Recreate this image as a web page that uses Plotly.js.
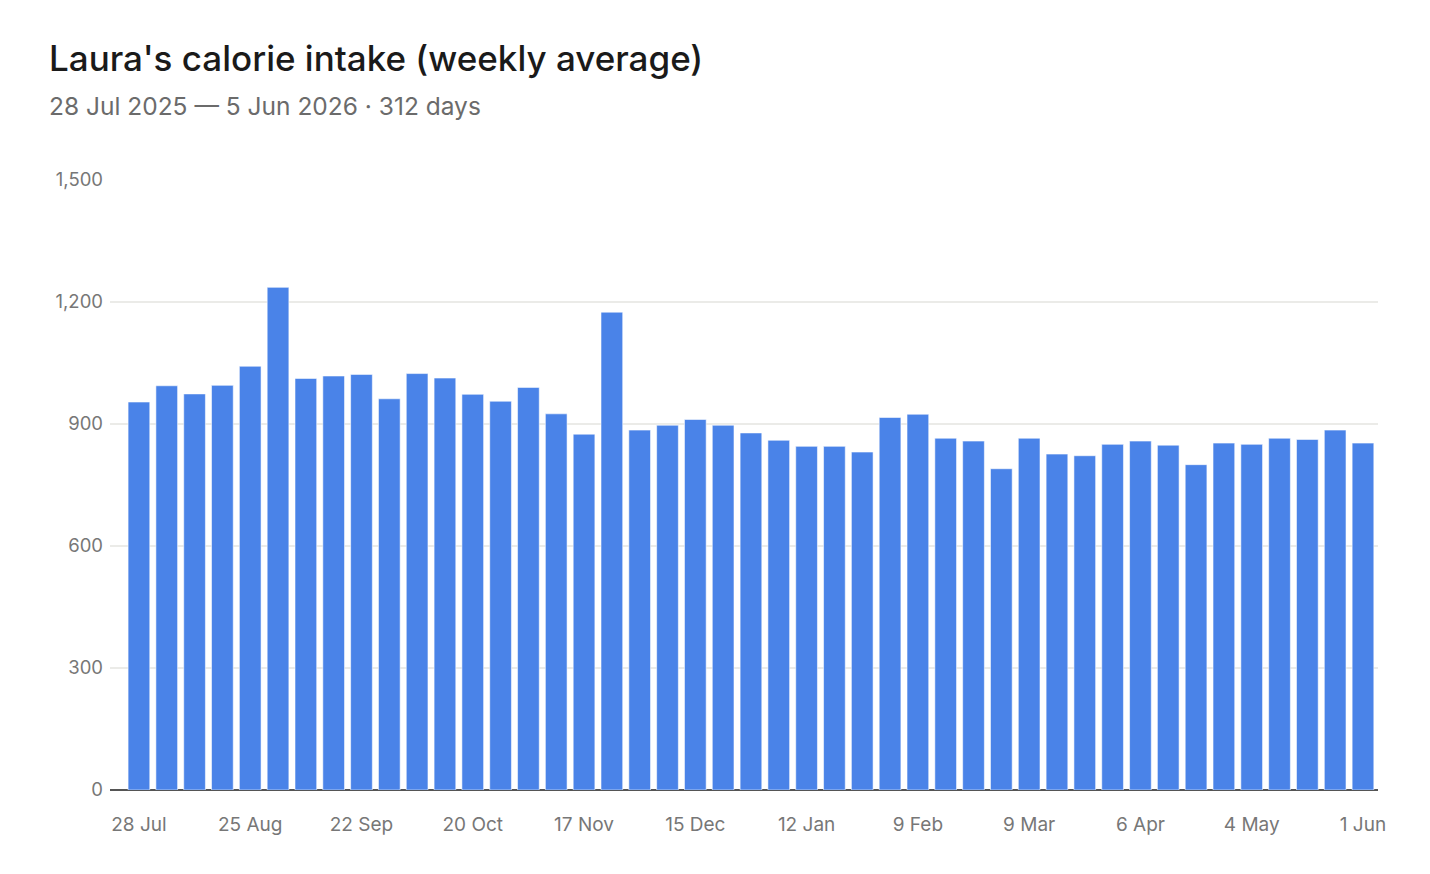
<!DOCTYPE html>
<html>
<head>
<meta charset="utf-8">
<script src="https://cdn.plot.ly/plotly-3.0.1.min.js"></script>
<style>html,body{margin:0;padding:0;background:#fff;}#chart{width:1430px;height:874px;}</style>
</head>
<body>
<div id="chart"></div>
<script>
const weeks = ["28 Jul","4 Aug","11 Aug","18 Aug","25 Aug","1 Sep","8 Sep","15 Sep","22 Sep","29 Sep",
  "6 Oct","13 Oct","20 Oct","27 Oct","3 Nov","10 Nov","17 Nov","24 Nov","1 Dec","8 Dec",
  "15 Dec","22 Dec","29 Dec","5 Jan","12 Jan","19 Jan","26 Jan","2 Feb","9 Feb","16 Feb",
  "23 Feb","2 Mar","9 Mar","16 Mar","23 Mar","30 Mar","6 Apr","13 Apr","20 Apr","27 Apr",
  "4 May","11 May","18 May","25 May","1 Jun"];
const calories = [954,994,974,995,1042,1236,1012,1018,1022,962,
  1024,1013,973,956,990,925,875,1175,885,897,
  911,897,878,860,845,845,831,916,924,865,
  858,790,865,826,822,850,858,848,800,853,
  850,865,862,885,853];
const tickLabels = ["28 Jul","25 Aug","22 Sep","20 Oct","17 Nov","15 Dec","12 Jan","9 Feb","9 Mar","6 Apr","4 May","1 Jun"];
const yTicks = [0,300,600,900,1200,1500];
const titleText = "Laura's calorie intake (weekly average)";
const subtitleText = "28 Jul 2025 — 5 Jun 2026 · 312 days";

const idx = weeks.map((w,i)=>i);
const tickIdx = tickLabels.map(t => weeks.indexOf(t));

const L = 110, R = 52, T = 180, B = 84, H = 874;
const plotH = H - T - B, plotW = 1430 - L - R;
const font = "Inter, 'DejaVu Sans', sans-serif";

const trace = {
  type: 'bar', x: idx, y: calories,
  marker: {color: '#4a83e8', line: {color: 'rgba(255,255,255,0.55)', width: 1}},
  hoverinfo: 'skip'
};
const layout = {
  width: 1430, height: 874,
  margin: {l: L, r: R, t: T, b: B},
  paper_bgcolor: '#fff', plot_bgcolor: '#fff',
  bargap: 0.22,
  showlegend: false,
  font: {family: font, color: '#777', size: 18},
  xaxis: {
    range: [-1.04, 44.54], tickvals: tickIdx, ticktext: tickLabels,
    showgrid: false, zeroline: false, ticks: '', showline: false,
    tickfont: {size: 19, color: '#777', family: font}, ticklabelstandoff: 21
  },
  yaxis: {
    range: [0, 1500], tickvals: yTicks, tickformat: ',', showgrid: true,
    gridcolor: '#ebebe8', gridwidth: 1.5, zeroline: true, zerolinecolor: '#555', zerolinewidth: 2,
    ticks: '', showline: false, tickfont: {size: 18.5, color: '#777', family: font}, ticklabelstandoff: 6
  },
  annotations: [
    {text: titleText, xref: 'paper', yref: 'paper', x: (47 - L)/plotW, y: 1 + (T - 58)/plotH,
     xanchor: 'left', yanchor: 'middle', showarrow: false,
     font: {family: font, size: 35, weight: 500, color: '#1a1a1a'}},
    {text: subtitleText, xref: 'paper', yref: 'paper', x: (47 - L)/plotW, y: 1 + (T - 106)/plotH,
     xanchor: 'left', yanchor: 'middle', showarrow: false,
     font: {family: font, size: 24.5, color: '#6b6b6b'}}
  ]
};
Plotly.newPlot('chart', [trace], layout, {displayModeBar: false, staticPlot: true});
</script>
</body>
</html>
